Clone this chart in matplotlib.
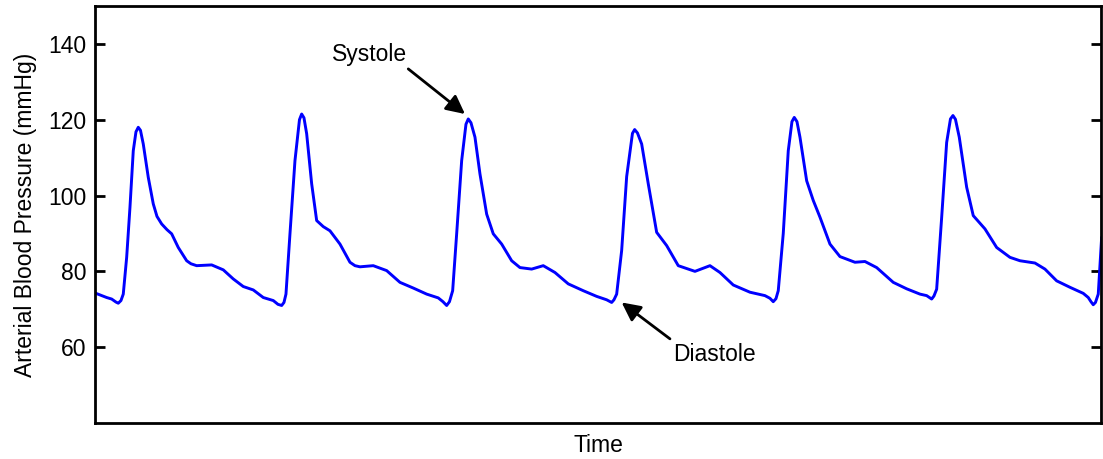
import matplotlib
matplotlib.use("Agg")
import matplotlib.pyplot as plt

plt.rcParams['font.family'] = ['Liberation Sans', 'DejaVu Sans']

# arterial pressure trace (time in arbitrary units)
t = [0, 11.7, 16.7, 21, 23.3, 26, 28.3, 31.7, 35, 38.3, 41, 43.3, 45.5, 48.3, 53.3, 58.3,
     62, 66.7, 72, 76.7, 83.3, 91.7, 96, 101.7, 116.7, 128.3, 138.3, 148.3, 158.3, 168.3,
     178.3, 183, 186.7,
     189, 191, 195, 200, 204.5, 206.7, 209, 211.7, 216.7, 221.7, 228.3, 235, 245, 255,
     260, 265, 278.3, 291.7, 305, 318.3, 331.7, 343.3, 348, 351.7,
     354.5, 357.7, 361.7, 366.7, 371, 373.3, 376, 380, 385, 391.7, 398.3, 406.7, 416.7,
     425, 436.7, 448.3, 460, 473.3, 488.3, 501.7, 511.7, 514.5, 516.7,
     519, 521.7, 526.7, 531.7, 537.5, 539.7, 542.5, 546.7, 553.3, 561.7, 571.7, 583.3,
     600, 615, 625, 638.3, 655, 670, 675, 678.3,
     681, 683.3, 688.3, 693.3, 697, 699.3, 702, 705, 711.7, 718.3, 725, 735, 745, 760,
     770, 781.7, 798.3, 811.7, 825, 831.7, 834.5, 836.7,
     839, 841.7, 846.7, 851.7, 855.5, 858, 860.5, 864.3, 871.7, 878.3, 890, 901.7, 915,
     925, 940, 950, 961.7, 975, 988.3, 993.3, 996, 998.3, 1000.5, 1003.3, 1006.7]
pressure = [74.3, 73.1, 72.7, 71.9, 71.6, 72.3, 74.0, 83.7, 96.9, 111.8, 116.8, 118.0, 117.2, 113.6, 104.8, 97.8,
            94.5, 92.5, 91.0, 89.9, 86.3, 82.8, 82.0, 81.5, 81.7, 80.4, 78.0, 76.0, 75.1, 73.1,
            72.3, 71.3, 71.0,
            71.8, 74.0, 89.9, 109.2, 120.0, 121.5, 120.5, 116.3, 103.1, 93.4, 91.8, 90.7, 87.2, 82.4,
            81.5, 81.2, 81.5, 80.2, 77.1, 75.6, 74.0, 73.0, 72.0, 71.0,
            72.0, 74.9, 89.9, 109.2, 118.8, 120.2, 119.2, 115.4, 105.7, 95.1, 89.9, 87.2, 82.8,
            81.0, 80.6, 81.5, 79.7, 76.7, 74.9, 73.4, 72.5, 72.1, 71.8,
            72.5, 74.0, 85.5, 105.0, 116.4, 117.4, 116.5, 113.6, 103.1, 90.3, 86.8, 81.5,
            80.0, 81.5, 79.7, 76.4, 74.5, 73.6, 72.9, 72.0,
            72.8, 74.9, 90.0, 111.8, 119.5, 120.6, 119.5, 115.4, 103.9, 98.7, 94.3, 87.2, 83.9, 82.4,
            82.6, 81.0, 77.1, 75.4, 74.0, 73.6, 73.1, 72.7,
            73.5, 75.3, 94.2, 114.0, 120.2, 121.1, 120.1, 115.4, 102.2, 94.7, 91.2, 86.3, 83.7,
            82.8, 82.2, 80.6, 77.5, 75.8, 74.2, 73.1, 72.0, 71.2, 71.8, 74.0, 89.0]

yticks = [60, 80, 100, 120, 140]

fig = plt.figure(figsize=(11.03, 4.59), dpi=100)
ax = fig.add_axes([0.0861, 0.0784, 0.9125, 0.9086])

ax.plot(t, pressure, color='#0000ff', lw=2.1, solid_joinstyle='round',
        solid_capstyle='round')

ax.set_xlim(0, 1006.5)
ax.set_ylim(40, 150)
ax.set_xticks([])
ax.set_yticks(yticks)
ax.tick_params(axis='y', direction='in', length=7, width=2, right=True,
               labelsize=16.5, pad=6)
for s in ax.spines.values():
    s.set_linewidth(2)

ax.set_ylabel('Arterial Blood Pressure (mmHg)', fontsize=16.5, labelpad=8)
ax.set_xlabel('Time', fontsize=16.5, labelpad=8)

# annotations
ax.text(275, 137.2, 'Systole', fontsize=16.5, ha='center', va='center')
ax.annotate('', xy=(370, 121.5), xytext=(313.3, 133.4),
            arrowprops=dict(arrowstyle='-|>', color='k', lw=2, mutation_scale=28,
                            shrinkA=0, shrinkB=0))
ax.text(619.7, 58.0, 'Diastole', fontsize=16.5, ha='center', va='center')
ax.annotate('', xy=(526.7, 71.8), xytext=(575, 62.2),
            arrowprops=dict(arrowstyle='-|>', color='k', lw=2, mutation_scale=28,
                            shrinkA=0, shrinkB=0))

fig.savefig('out.png', dpi=100)
